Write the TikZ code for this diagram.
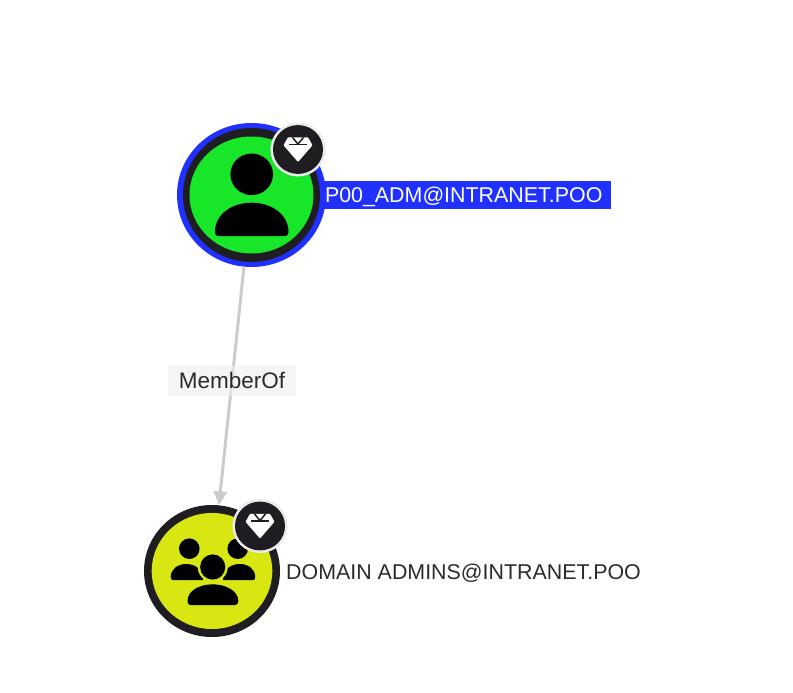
\documentclass[tikz,border=0pt]{standalone}
\usepackage{fontspec}
\setmainfont{Liberation Sans}
\usetikzlibrary{arrows.meta,shapes.geometric}
\definecolor{ringdark}{HTML}{1F1D22}
\definecolor{hiblue}{HTML}{1F30FF}
\definecolor{usergreen}{HTML}{17E629}
\definecolor{groupyellow}{HTML}{D8E612}
\definecolor{edgegrey}{HTML}{CCCCCC}
\definecolor{labelbg}{HTML}{EEEEEE}
\definecolor{labeltext}{HTML}{2B2B2B}
\tikzset{
  x=1pt,y=-1pt,
  graphnode/.style={ellipse,inner sep=0pt,outer sep=0pt},
  nodetext/.style={font=\fontsize{21.4}{24}\selectfont,inner sep=0pt},
  edgeline/.style={draw=edgegrey,line width=3pt,-{Triangle[length=14pt,width=13pt]}},
  edgelabel/.style={fill=labelbg,fill opacity=.6,text opacity=1,text=labeltext,font=\fontsize{22.5}{24}\selectfont,minimum width=127.5pt,minimum height=31pt,inner sep=0pt},
  iconpart/.style={fill=black},
  gem/.pic={
    \fill[white!92!black] (0,0) ellipse[x radius=27.6,y radius=27];
    \fill[ringdark] (0,0) ellipse[x radius=25,y radius=24.4];
    \fill[white,rounded corners=0.8pt] (-10,-12.2) -- (10,-12.2) -- (14.5,-4.2) -- (0,12.5) -- (-14.5,-4.2) -- cycle;
    \draw[ringdark,line width=1.5pt] (-9,-5) -- (9,-5);
    \draw[ringdark,line width=1.5pt] (-5.5,-12) -- (0,-5.5) -- (5.5,-12);
  }
}
\begin{document}
\begin{tikzpicture}
\useasboundingbox (0,0) rectangle (793,693);
% label under the first node
\node[fill=hiblue,text=white,nodetext,minimum width=301pt,minimum height=28pt,anchor=west] (userlabel) at (310,195) {\raisebox{-7.7pt}[0pt][0pt]{\hspace*{6pt}P00\_ADM@INTRANET.POO}};
% nodes
\node[graphnode,fill=hiblue,minimum width=149pt,minimum height=144pt] (user) at (251.5,195) {};
\fill[ringdark] (user.center) ellipse[x radius=68.5,y radius=67];
\fill[usergreen] (user.center) ellipse[x radius=62,y radius=58.5];
\fill[iconpart] (251.7,174.3) ellipse[x radius=21.3,y radius=20.8];
\fill[iconpart] (215,232) .. controls (215,214) and (232,202.7) .. (251.7,202.7) .. controls (271,202.7) and (288.5,214) .. (288.5,232) .. controls (288.5,235) and (287,236) .. (285,236) -- (218.5,236) .. controls (216,236) and (215,235) .. (215,232) -- cycle;
\pic at (298,149.5) {gem};

\node[graphnode,fill=ringdark,minimum width=136pt,minimum height=132pt] (group) at (212,571) {};
\fill[groupyellow] (group.center) ellipse[x radius=60.3,y radius=58];
\fill[iconpart] (189.3,548.7) circle[radius=10.3];
\fill[iconpart] (237.7,548.7) circle[radius=10.3];
\fill[iconpart] (170.7,577) .. controls (170.7,569) and (178,564) .. (186,564) .. controls (195,564) and (203,569) .. (203,580) -- (173,580) .. controls (171.5,580) and (170.7,579) .. (170.7,577) -- cycle;
\fill[iconpart] (255.2,577) .. controls (255.2,569) and (248,564) .. (240,564) .. controls (231,564) and (223,569) .. (223,580) -- (253,580) .. controls (254.5,580) and (255.2,579) .. (255.2,577) -- cycle;
\fill[groupyellow] (212.7,567) circle[radius=15];
\fill[groupyellow] (184,582.5) rectangle (241,608);
\fill[iconpart] (212.7,567) circle[radius=12.6];
\fill[iconpart] (187.5,601) .. controls (187.5,591) and (199,584.3) .. (212.7,584.3) .. controls (226,584.3) and (238.3,591) .. (238.3,601) .. controls (238.3,603.5) and (237,605) .. (235,605) -- (190.5,605) .. controls (188.5,605) and (187.5,603.5) .. (187.5,601) -- cycle;
\pic at (260,526) {gem};

\node[nodetext,text=labeltext,anchor=west] (grouplabel) at (286,573.5) {DOMAIN ADMINS@INTRANET.POO};
% connector
\draw[edgeline] (user) -- node[edgelabel,pos=.475] (memberof) {MemberOf} (group);
\end{tikzpicture}
\end{document}
